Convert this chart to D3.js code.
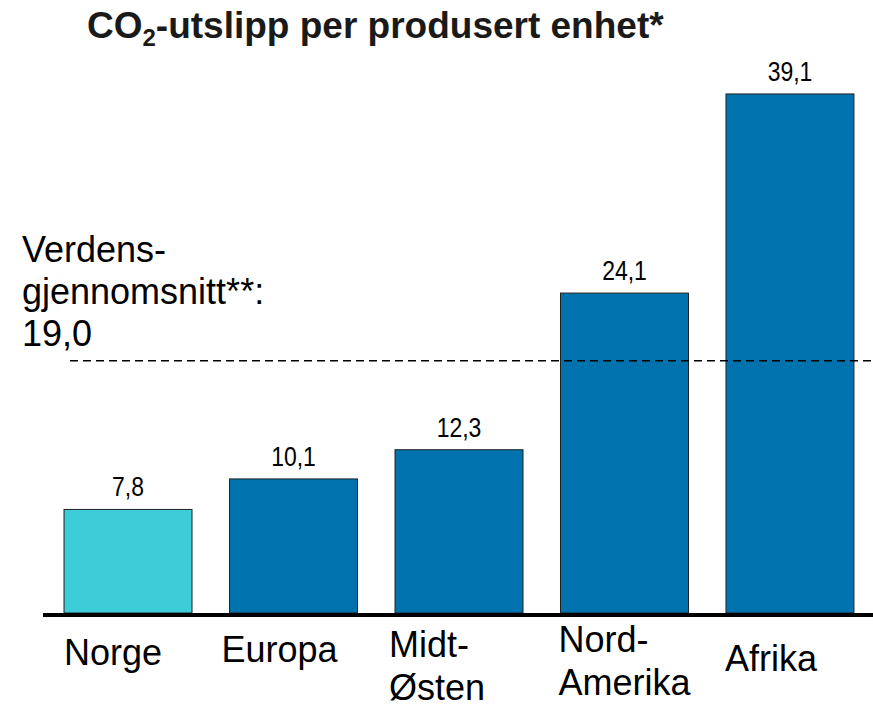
<meta charset="utf-8">
<html>
<head>
<title>CO2-utslipp per produsert enhet</title>
<style>
  body { margin: 0; background: #fff; }
  .title { font: bold 37px "Liberation Sans", Arial, sans-serif; fill: #1a1a1a; }
  .bartext { font: 28px "Liberation Sans", Arial, sans-serif; fill: #000; text-anchor: middle; }
  .catlabel { font: 36px "Liberation Sans", Arial, sans-serif; fill: #000; }
  .note { font: 36px "Liberation Sans", Arial, sans-serif; fill: #000; }
</style>
</head>
<body>
<svg width="873" height="707"></svg>

<script src="https://cdnjs.cloudflare.com/ajax/libs/d3/7.8.5/d3.min.js"></script>
<script>

// data
var categories = ["Norge", "Europa", "Midt-Østen", "Nord-Amerika", "Afrika"];
var labelLines = [["Norge"], ["Europa"], ["Midt-", "Østen"], ["Nord-", "Amerika"], ["Afrika"]];
var values = [7.8, 10.1, 12.3, 24.1, 39.1];
var valueLabels = ["7,8", "10,1", "12,3", "24,1", "39,1"];
var worldAvg = 19.0;
var noteLines = ["Verdens-", "gjennomsnitt**:", "19,0"];

// layout
var labelNudge = [[0, 665], [-8, 662], [-6, 657], [-2, 652], [-1, 671]];
var lightColor = "#3ccdd9", darkColor = "#0073ae";

var svg = d3.select("svg");

var x = d3.scaleBand()
    .domain(categories)
    .range([45, 873])
    .paddingInner(0.2266)
    .paddingOuter(0.115);

var y = d3.scaleLinear()
    .domain([0, 40])
    .range([613, 82]);

/*title*/
var title = svg.append("text")
    .attr("class", "title")
    .attr("x", 87)
    .attr("y", 38);
title.append("tspan").text("CO");
title.append("tspan").attr("dy", 8).style("font-size", "24px").text("2");
title.append("tspan").attr("dy", -8).text("-utslipp per produsert enhet*");

/*bars*/
var data = categories.map(function(c, i) {
  return {cat: c, val: values[i], label: valueLabels[i], lines: labelLines[i], nudge: labelNudge[i]};
});

svg.selectAll(".bar")
    .data(data)
    .enter().append("rect")
    .attr("class", "bar")
    .attr("x", function(d) { return x(d.cat); })
    .attr("y", function(d) { return y(d.val); })
    .attr("width", x.bandwidth())
    .attr("height", function(d) { return y(0) - y(d.val); })
    .attr("fill", function(d, i) { return i === 0 ? lightColor : darkColor; })
    .attr("stroke", "#222")
    .attr("stroke-width", 1);

// narrow look for the value labels: squeeze horizontally around the bar centre
svg.selectAll(".bartext")
    .data(data)
    .enter().append("text")
    .attr("class", "bartext")
    .attr("transform", function(d) {
      return "translate(" + (x(d.cat) + x.bandwidth() / 2) + "," + (y(d.val) - 13) + ") scale(0.82,1)";
    })
    .text(function(d) { return d.label; });

/*baseline*/
svg.append("line")
    .attr("x1", 43).attr("x2", 873)
    .attr("y1", y(0) + 2).attr("y2", y(0) + 2)
    .attr("stroke", "#000")
    .attr("stroke-width", 4);

/*world average*/
svg.append("line")
    .attr("x1", 70).attr("x2", 873)
    .attr("y1", y(worldAvg)).attr("y2", y(worldAvg))
    .attr("stroke", "#000")
    .attr("stroke-width", 1.5)
    .attr("stroke-dasharray", "8,5");

var note = svg.append("text").attr("class", "note");
noteLines.forEach(function(t, i) {
  note.append("tspan").attr("x", 22).attr("y", 262 + i * 42).text(t);
});

/*category labels*/
var cats = svg.selectAll(".catlabel")
    .data(data)
    .enter().append("text")
    .attr("class", "catlabel");
cats.each(function(d) {
  var t = d3.select(this);
  d.lines.forEach(function(line, j) {
    t.append("tspan")
      .attr("x", x(d.cat) + d.nudge[0])
      .attr("y", d.nudge[1] + j * 43)
      .text(line);
  });
});

</script>
</body>
</html>
